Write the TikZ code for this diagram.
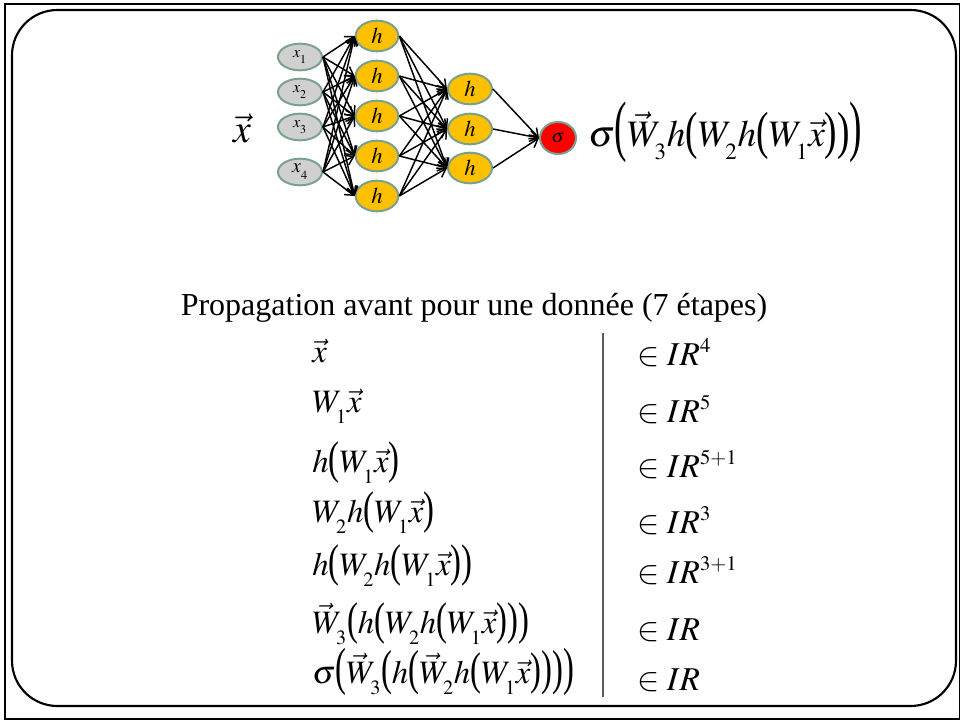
\documentclass[tikz,border=0pt]{standalone}
\usepackage{mathptmx}
\usepackage{fontspec}
\setmainfont{Liberation Serif}
\usetikzlibrary{shapes.geometric}
\usetikzlibrary{arrows.meta}

\def\defaultscriptratio{.62}
% stretched parentheses and lowered subscripts
\newcommand\parL[1][1.4]{\mathopen{\raisebox{-0.06em}{\scalebox{1}[#1]{(}}}}
\newcommand\parR[1][1.4]{\mathclose{\raisebox{-0.06em}{\scalebox{1}[#1]{)}}}}
\newcommand\dn[1]{_{\raisebox{-0.2em}{$\scriptstyle #1$}}}

\definecolor{nodeedge}{RGB}{122,160,142}
\definecolor{xfill}{RGB}{208,208,208}
\definecolor{hfill}{RGB}{255,192,0}

\tikzset{
  neuron/.style={ellipse,draw=nodeedge,line width=1.5pt,inner sep=0pt},
  xneuron/.style={neuron,fill=xfill,minimum width=33pt,minimum height=20pt},
  hneuron/.style={neuron,fill=hfill,minimum width=32pt,minimum height=23pt,font=\fontsize{17}{19}\selectfont},
  sneuron/.style={neuron,fill=red,minimum width=27pt,minimum height=24pt,font=\fontsize{14}{16}\selectfont},
  wire/.style={line width=1.1pt,-{Straight Barb[length=6pt,width=8pt]}},
  steptxt/.style={anchor=base west,inner sep=0pt,font=\fontsize{24.5}{28}\selectfont},
  dimtxt/.style={anchor=base west,inner sep=0pt,font=\fontsize{25}{29}\selectfont},
}

\begin{document}
\begin{tikzpicture}[x=0.75pt,y=-0.75pt]
\useasboundingbox (0,0) rectangle (961,721);

% frames
\draw[line width=1.2pt] (5,4) rectangle (959.5,719);
\draw[line width=1.6pt,rounded corners=34pt] (12,10) rectangle (956,706);

% input layer
\foreach \i/\y in {1/57,2/92,3/127}
  \node[xneuron,font=\fontsize{12}{14}\selectfont] at (300,\y) (x\i) {$x\dn{\i}$};
\node[xneuron,font=\fontsize{15}{17}\selectfont] at (300,172) (x4) {$x\dn{4}$};

% first hidden layer
\foreach \j/\y in {1/36,2/76,3/116,4/156,5/196}
  \node[hneuron] at (377,\y) (a\j) {$h$};

% second hidden layer
\foreach \j/\y in {1/89,2/129,3/168}
  \node[hneuron,minimum width=33pt] at (470,\y) (b\j) {$h$};

% output
\node[sneuron] at (558,138) (out) {$\sigma$};

% weights
\foreach \i in {1,...,4}
  \foreach \j in {1,...,5}
    \draw[wire] (x\i.east) -- (a\j.west);
\foreach \i in {1,...,5}
  \foreach \j in {1,...,3}
    \draw[wire] (a\i.east) -- (b\j.west);
\foreach \j in {1,...,3}
  \draw[wire] (b\j.east) -- (out.west);

% labels of the network
\node[anchor=base,inner sep=0pt,font=\fontsize{30}{34}\selectfont] at (242,142) (xin) {$\vec{x}$};
\node[anchor=base west,inner sep=0pt,font=\fontsize{28}{32}\selectfont] at (588,146) (fout)
  {$\sigma\parL[1.8]\vec{W}\dn{3}h\parL W\dn{2}h\parL W\dn{1}\vec{x}\parR\parR\parR[1.8]$};

% title
\node[anchor=base,inner sep=0pt,font=\fontsize{24}{28}\selectfont] at (474,315) (title)
  {Propagation avant pour une donnée (7 étapes)};

% steps
\node[steptxt] at (312,362) (l1) {$\vec{x}$};
\node[steptxt] at (312,412) (l2) {$W\dn{1}\vec{x}$};
\node[steptxt] at (312,472) (l3) {$h\parL W\dn{1}\vec{x}\parR$};
\node[steptxt] at (312,522) (l4) {$W\dn{2}h\parL W\dn{1}\vec{x}\parR$};
\node[steptxt] at (312,575) (l5) {$h\parL W\dn{2}h\parL W\dn{1}\vec{x}\parR\parR$};
\node[steptxt] at (312,633) (l6) {$\vec{W}\dn{3}\parL h\parL W\dn{2}h\parL W\dn{1}\vec{x}\parR\parR\parR$};
\node[steptxt] at (312,683) (l7) {$\sigma\parL[1.6]\vec{W}\dn{3}\parL[1.5]h\parL[1.5]\vec{W}\dn{2}h\parL W\dn{1}\vec{x}\parR\parR[1.5]\parR[1.5]\parR[1.6]$};

% dimensions
\node[dimtxt] at (637,365) (r1) {$\in IR^4$};
\node[dimtxt] at (637,422) (r2) {$\in IR^5$};
\node[dimtxt] at (637,477) (r3) {$\in IR^{5+1}$};
\node[dimtxt] at (637,533) (r4) {$\in IR^3$};
\node[dimtxt] at (637,583) (r5) {$\in IR^{3+1}$};
\node[dimtxt] at (637,640) (r6) {$\in IR$};
\node[dimtxt] at (637,690) (r7) {$\in IR$};

% separator
\coordinate (septop) at (603,333);
\coordinate (sepbot) at (603,697);
\draw[line width=0.8pt,black!65] (septop) -- (sepbot);

\end{tikzpicture}
\end{document}
